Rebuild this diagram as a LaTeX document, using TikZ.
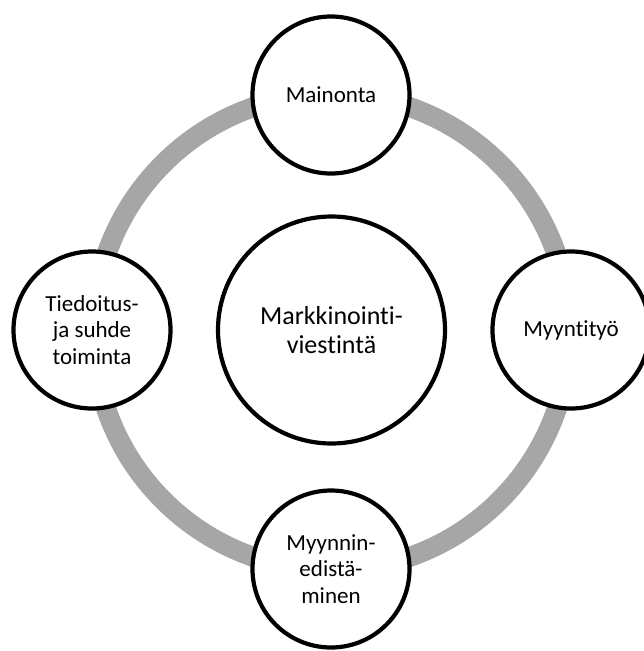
\documentclass[tikz,border=0pt]{standalone}
\usepackage{fontspec}
\setmainfont{Carlito}[Ligatures={NoCommon,NoRare,NoContextual}]
\begin{document}
\begin{tikzpicture}[x=1pt,y=-1pt,
  sat/.style={circle,draw=black,line width=4.2pt,fill=white,minimum size=157pt,inner sep=0pt,align=center,
    font=\fontsize{23}{26.5}\selectfont,text=black},
  hub/.style={circle,draw=black,line width=4.2pt,fill=white,minimum size=227pt,inner sep=0pt,align=center,
    font=\fontsize{26}{29}\selectfont,text=black},
  ringline/.style={draw={rgb,255:red,166;green,166;blue,166},line width=20pt}]
\useasboundingbox (0,0) rectangle (643,651);
\fill[white] (0,0) rectangle (643,651);
\coordinate (rc) at (331.5,332);
\draw[ringline] (rc) circle[radius=238];
\node[hub] (m) at (331.5,330) {Markkinointi-\\viestintä};
\node[sat] (top) at (331,95) {Mainonta};
\node[sat] (right) at (571,330) {Myyntityö};
\node[sat] (bottom) at (331,569) {Myynnin-\\edistä-\\minen};
\node[sat] (left) at (92,330) {Tiedoitus-\\ja suhde\\toiminta};
\end{tikzpicture}
\end{document}
